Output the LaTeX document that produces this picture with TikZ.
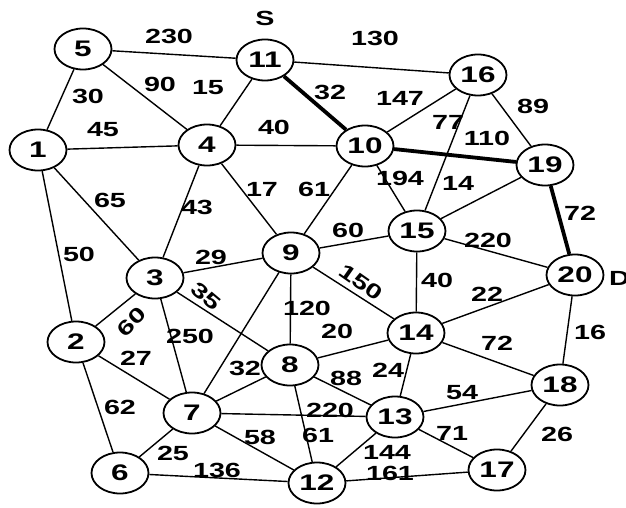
\documentclass[tikz,border=0pt]{standalone}
\usepackage{graphicx}
\usepackage{fontspec}
\setmainfont{Liberation Sans}
\usetikzlibrary{shapes.geometric}
\newcommand\hx[1]{\scalebox{1.4}[1]{#1}}
\begin{document}
\begin{tikzpicture}[x=1pt,y=-1pt,
 vtx/.style={draw,ellipse,line width=1.8pt,minimum width=57pt,minimum height=41pt,inner sep=0pt,font=\bfseries\fontsize{22.5}{22.5}\selectfont},
 wt/.style={inner sep=0pt,font=\bfseries\fontsize{20.5}{20.5}\selectfont},
 edge/.style={line width=1.4pt},
 hot/.style={line width=3.8pt}]
\useasboundingbox (0,0) rectangle (626,508);
% vertices
\node[vtx] (n1)  at (38,150) {\hx{1}};
\node[vtx] (n2)  at (76,342) {\hx{2}};
\node[vtx] (n3)  at (155,278) {\hx{3}};
\node[vtx] (n4)  at (207,145) {\hx{4}};
\node[vtx] (n5)  at (83,49) {\hx{5}};
\node[vtx] (n6)  at (120,473) {\hx{6}};
\node[vtx] (n7)  at (192,413) {\hx{7}};
\node[vtx] (n8)  at (290,365) {\hx{8}};
\node[vtx] (n9)  at (291,253) {\hx{9}};
\node[vtx] (n10) at (365,146) {\hx{10}};
\node[vtx] (n11) at (265,60) {\hx{11}};
\node[vtx] (n12) at (317,483) {\hx{12}};
\node[vtx] (n13) at (395,417) {\hx{13}};
\node[vtx] (n14) at (416,333) {\hx{14}};
\node[vtx] (n15) at (417,231) {\hx{15}};
\node[vtx] (n16) at (478,75) {\hx{16}};
\node[vtx] (n17) at (497,470) {\hx{17}};
\node[vtx] (n18) at (560,385) {\hx{18}};
\node[vtx] (n19) at (545,165) {\hx{19}};
\node[vtx] (n20) at (575,275) {\hx{20}};
% edges
\draw[edge] (n5)--(n11) (n5)--(n1) (n5)--(n4) (n1)--(n4) (n11)--(n4)
 (n11)--(n16) (n4)--(n10) (n4)--(n9) (n10)--(n9) (n10)--(n16)
 (n16)--(n15) (n16)--(n19) (n10)--(n15) (n15)--(n19)
 (n1)--(n3) (n4)--(n3) (n1)--(n2) (n3)--(n9) (n9)--(n15) (n15)--(n20)
 (n3)--(n8) (n9)--(n14) (n15)--(n14) (n14)--(n20) (n3)--(n2) (n3)--(n7)
 (n9)--(n8) (n9)--(n7) (n2)--(n7) (n7)--(n8) (n8)--(n14) (n8)--(n13)
 (n14)--(n13) (n14)--(n18) (n20)--(n18) (n2)--(n6) (n7)--(n13)
 (n13)--(n18) (n8)--(n12) (n7)--(n12) (n13)--(n17) (n18)--(n17)
 (n6)--(n7) (n6)--(n12) (n12)--(n13) (n12)--(n17);
\draw[hot] (n11)--(n10) (n10)--(n19) (n19)--(n20);
% weights
\node[wt] (w230) at (169,36) {\hx{230}};
\node[wt] (w130) at (375,38) {\hx{130}};
\node[wt] (w90) at (160,84) {\hx{90}};
\node[wt] (w15) at (208,88) {\hx{15}};
\node[wt] (w30) at (88,96) {\hx{30}};
\node[wt] (w45) at (103,130) {\hx{45}};
\node[wt] (w32a) at (330,92) {\hx{32}};
\node[wt] (w147) at (400,98) {\hx{147}};
\node[wt] (w89) at (533,106) {\hx{89}};
\node[wt] (w77) at (448,122) {\hx{77}};
\node[wt] (w110) at (487,138) {\hx{110}};
\node[wt] (w40a) at (274,127) {\hx{40}};
\node[wt] (w17) at (262,189) {\hx{17}};
\node[wt] (w61a) at (314,189) {\hx{61}};
\node[wt] (w194) at (400,178) {\hx{194}};
\node[wt] (w14) at (458,183) {\hx{14}};
\node[wt] (w72a) at (580,213) {\hx{72}};
\node[wt] (w65) at (110,200) {\hx{65}};
\node[wt] (w43) at (197,207) {\hx{43}};
\node[wt] (w60a) at (348,230) {\hx{60}};
\node[wt] (w220a) at (488,240) {\hx{220}};
\node[wt] (w29) at (211,257) {\hx{29}};
\node[wt] (w50) at (79,254) {\hx{50}};
\node[wt,rotate=-40] (w35) at (206,296) {\hx{35}};
\node[wt,rotate=-35] (w150) at (361,282) {\hx{150}};
\node[wt,rotate=45] (w60b) at (132,322) {\hx{60}};
\node[wt] (w250) at (190,336) {\hx{250}};
\node[wt] (w120) at (307,308) {\hx{120}};
\node[wt] (w20) at (337,331) {\hx{20}};
\node[wt] (w40b) at (437,280) {\hx{40}};
\node[wt] (w22) at (487,294) {\hx{22}};
\node[wt] (w27) at (136,358) {\hx{27}};
\node[wt] (w32b) at (245,368) {\hx{32}};
\node[wt] (w88) at (346,378) {\hx{88}};
\node[wt] (w24) at (388,370) {\hx{24}};
\node[wt] (w72b) at (497,343) {\hx{72}};
\node[wt] (w16) at (590,332) {\hx{16}};
\node[wt] (w62) at (120,407) {\hx{62}};
\node[wt] (w220b) at (330,410) {\hx{220}};
\node[wt] (w54) at (462,393) {\hx{54}};
\node[wt] (w58) at (260,437) {\hx{58}};
\node[wt] (w61b) at (318,435) {\hx{61}};
\node[wt] (w71) at (452,433) {\hx{71}};
\node[wt] (w26) at (557,434) {\hx{26}};
\node[wt] (w25) at (173,453) {\hx{25}};
\node[wt] (w136) at (217,470) {\hx{136}};
\node[wt] (w144) at (387,452) {\hx{144}};
\node[wt] (w161) at (390,473) {\hx{161}};
\node[wt] (lS) at (265,18) {\hx{S}};
\node[wt,anchor=west] (lD) at (609,278) {\hx{D}};
\end{tikzpicture}
\end{document}
